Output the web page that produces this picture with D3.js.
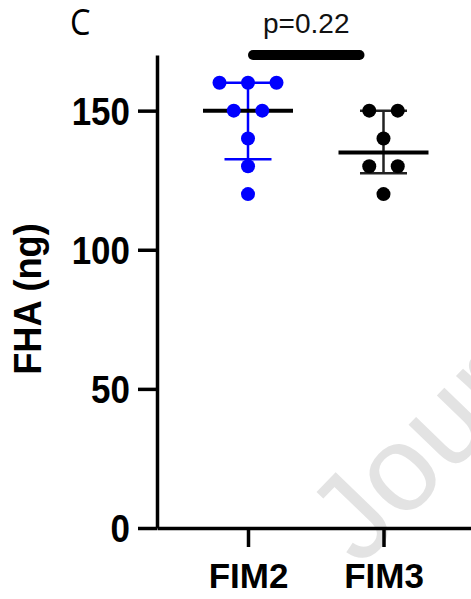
<!DOCTYPE html>
<html>
<head>
<meta charset="utf-8">
<script src="https://cdn.jsdelivr.net/npm/d3@7"></script>
<style>
  html, body { margin: 0; padding: 0; background: #fff; }
  svg { display: block; }
</style>
</head>
<body>
<svg id="chart" width="471" height="599"></svg>
<script>
// ---- data ----
const categories = ["FIM2", "FIM3"];
const fim2Values = [160, 160, 160, 150, 150, 140, 130, 120];
const fim3Values = [150, 150, 140, 130, 130, 120];
const yTicks = [0, 50, 100, 150];
const yLabel = "FHA (ng)";
const panelLabel = "C";
const pLabel = "p=0.22";
const watermark = "Journal Pre-proof";

const groups = [
  { name: categories[0], values: fim2Values, dot: "#0000ff", bar: "#0000ff" },
  { name: categories[1], values: fim3Values, dot: "#000000", bar: "#222222" }
];

// Prism-style quantile: position (n+1)p, linear interpolation
function quant(vals, p) {
  const s = vals.slice().sort((a, b) => a - b);
  const n = s.length;
  let pos = (n + 1) * p;
  if (pos < 1) pos = 1;
  if (pos > n) pos = n;
  const lo = Math.floor(pos), hi = Math.ceil(pos);
  return s[lo - 1] + (pos - lo) * (s[hi - 1] - s[lo - 1]);
}

const svg = d3.select("#chart");
const font = "'Liberation Sans', Arial, Helvetica, sans-serif";

const y = d3.scaleLinear().domain([0, 170]).range([528, 55]);
const x = d3.scalePoint().domain(categories).range([157, 474.5]).padding(0.6716);

// watermark
svg.append("text")
  .attr("transform", "translate(360,568) rotate(-46)")
  .attr("font-family", font)
  .attr("font-size", 122)
  .attr("fill", "#e3e3e3")
  .text(watermark);

// y axis
const yAxis = svg.append("g")
  .attr("transform", "translate(157,0)")
  .call(d3.axisLeft(y).tickValues(yTicks).tickSize(19).tickSizeOuter(0).tickPadding(8).tickFormat(d3.format("d")));
yAxis.select(".domain").attr("stroke", "#000").attr("stroke-width", 3.5);
yAxis.selectAll(".tick line").attr("stroke", "#000").attr("stroke-width", 3.5);
yAxis.selectAll(".tick text")
  .attr("x", null).attr("dy", null)
  .attr("transform", "translate(-27,13.5) scale(0.92,1)")
  .attr("font-family", font).attr("font-weight", "bold").attr("font-size", 38)
  .attr("fill", "#000");

// x axis
const xAxis = svg.append("g")
  .attr("transform", "translate(0,528)")
  .call(d3.axisBottom(x).tickSize(19).tickSizeOuter(0).tickPadding(16));
xAxis.select(".domain").attr("stroke", "#000").attr("stroke-width", 3.5);
xAxis.selectAll(".tick line").attr("stroke", "#000").attr("stroke-width", 3.5);
xAxis.selectAll(".tick text")
  .attr("y", null).attr("dy", null)
  .attr("transform", "translate(0,60)")
  .attr("font-family", font).attr("font-weight", "bold").attr("font-size", 35)
  .attr("fill", "#000");

// y axis title
svg.append("text")
  .attr("transform", "translate(41,299) rotate(-90) scale(0.93,1)")
  .attr("text-anchor", "middle")
  .attr("font-family", font).attr("font-weight", "bold").attr("font-size", 39)
  .attr("fill", "#000")
  .text(yLabel);

// groups
const capW = 47, medW = 90, step = 28.5, r = 7;
groups.forEach(g => {
  const cx = x(g.name);
  const med = quant(g.values, 0.5);
  const q1 = quant(g.values, 0.25);
  const q3 = quant(g.values, 0.75);
  const gg = svg.append("g");
  gg.append("line").attr("x1", cx).attr("x2", cx).attr("y1", y(q1)).attr("y2", y(q3))
    .attr("stroke", g.bar).attr("stroke-width", 2.5);
  [q1, q3].forEach(q => {
    gg.append("line").attr("x1", cx - capW / 2).attr("x2", cx + capW / 2)
      .attr("y1", y(q)).attr("y2", y(q))
      .attr("stroke", g.bar).attr("stroke-width", 2.5);
  });
  gg.append("line").attr("x1", cx - medW / 2).attr("x2", cx + medW / 2)
    .attr("y1", y(med)).attr("y2", y(med))
    .attr("stroke", "#000").attr("stroke-width", 4);
  const counts = d3.rollup(g.values, v => v.length, d => d);
  const seen = new Map();
  const pts = g.values.map(v => {
    const k = counts.get(v);
    const i = seen.get(v) || 0;
    seen.set(v, i + 1);
    return { v, off: (i - (k - 1) / 2) * step };
  });
  gg.selectAll("circle").data(pts).join("circle")
    .attr("cx", d => cx + d.off).attr("cy", d => y(d.v)).attr("r", r)
    .attr("fill", g.dot);
});

// significance bar
const bx1 = x(categories[0]) + 5, bx2 = x(categories[1]) - 24;
svg.append("line").attr("x1", bx1).attr("x2", bx2).attr("y1", y(170)).attr("y2", y(170))
  .attr("stroke", "#000").attr("stroke-width", 10).attr("stroke-linecap", "round");
svg.append("text")
  .attr("x", (bx1 + bx2) / 2).attr("y", 33)
  .attr("text-anchor", "middle")
  .attr("font-family", font).attr("font-size", 28).attr("fill", "#111")
  .text(pLabel);

// panel label
svg.append("text")
  .attr("transform", "translate(70,35) scale(0.88,1)")
  .attr("font-family", "'Open Sans', " + font).attr("font-size", 37).attr("fill", "#000")
  .text(panelLabel);
</script>
</body>
</html>
